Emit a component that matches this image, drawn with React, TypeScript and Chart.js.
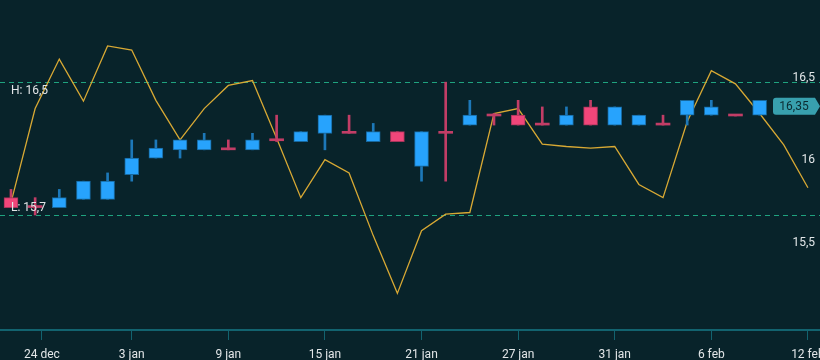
import React, { useEffect, useRef } from 'react';
import { Chart, registerables } from 'chart.js';

Chart.register(...registerables);

// Candles (one per trading day)
const opens = [15.76, 15.71, 15.70, 15.75, 15.75, 15.90, 16.00, 16.05, 16.05, 16.055, 16.05, 16.11, 16.10, 16.15, 16.155, 16.10, 16.16, 15.95, 16.155, 16.20, 16.26, 16.26, 16.205, 16.20, 16.31, 16.20, 16.20, 16.205, 16.26, 16.26, 16.26, 16.26];
const highs = [15.81, 15.76, 15.81, 15.86, 15.91, 16.11, 16.11, 16.11, 16.15, 16.11, 16.15, 16.26, 16.16, 16.26, 16.26, 16.21, 16.16, 16.16, 16.46, 16.35, 16.27, 16.35, 16.31, 16.31, 16.35, 16.31, 16.26, 16.26, 16.35, 16.35, 16.26, 16.35];
const lows = [15.70, 15.655, 15.70, 15.75, 15.75, 15.86, 16.00, 16.00, 16.05, 16.05, 16.05, 16.10, 16.10, 16.05, 16.15, 16.10, 16.10, 15.86, 15.86, 16.20, 16.20, 16.20, 16.20, 16.20, 16.20, 16.20, 16.20, 16.20, 16.20, 16.26, 16.255, 16.26];
const closes = [15.70, 15.70, 15.76, 15.86, 15.86, 16.00, 16.06, 16.11, 16.11, 16.05, 16.11, 16.105, 16.16, 16.26, 16.15, 16.16, 16.10, 16.16, 16.15, 16.26, 16.255, 16.20, 16.20, 16.26, 16.20, 16.31, 16.26, 16.20, 16.35, 16.31, 16.255, 16.35];

// Yellow comparison line (one point per day, two more days than candles)
const lineValues = [15.73, 16.30, 16.60, 16.345, 16.68, 16.655, 16.35, 16.11, 16.30, 16.44, 16.47, 16.12, 15.76, 15.99, 15.91, 15.53, 15.18, 15.56, 15.66, 15.67, 16.27, 16.30, 16.085, 16.07, 16.06, 16.07, 15.84, 15.76, 16.22, 16.53, 16.45, 16.27, 16.08, 15.82];

// Axis ticks
const xTickIdx = [1.28, 5, 9, 13, 17, 21, 25, 29, 33];
const xTickLabels = ['24 dec', '3 jan', '9 jan', '15 jan', '21 jan', '27 jan', '31 jan', '6 feb', '12 feb'];
const yTickValues = [15.5, 16, 16.5];

const BG = '#08232a';
const UP = '#27a3fd';
const UP_BORDER = '#17679c';
const UP_WICK = '#1d78b8';
const DOWN = '#f1467a';
const DOWN_BORDER = '#a5345a';
const DOWN_WICK = '#c23d66';
const LINE = '#d8a934';
const DASH = '#1fa37f';
const AXIS = '#12636f';
const TEXT = '#e2e6e8';
const BADGE = '#38a0ae';
const FONT = 'Roboto, "Noto Sans", sans-serif';

const fmt = (v: number, d?: number) => (d === undefined ? String(v) : v.toFixed(d)).replace('.', ',');

export default function App() {
  const ref = useRef<HTMLCanvasElement>(null);

  useEffect(() => {
    const canvas = ref.current;
    if (!canvas) return;

    const isDoji = (i: number) => Math.abs(closes[i] - opens[i]) < 0.015;
    const isUp = (i: number) => closes[i] >= opens[i];

    const bodyData = opens.map((o, i) => ({ x: i, y: [Math.min(o, closes[i]), Math.max(o, closes[i])] }));
    const wickData = opens.map((_, i) => ({ x: i, y: [lows[i], highs[i]] }));
    const bodyBg = opens.map((_, i) => (isDoji(i) ? (isUp(i) ? UP_WICK : DOWN_WICK) : isUp(i) ? UP : DOWN));
    const bodyBorder = opens.map((_, i) => (isUp(i) ? UP_BORDER : DOWN_BORDER));
    const bodyBw = opens.map((_, i) => (isDoji(i) ? 0 : 1));
    const wickColors = opens.map((_, i) => (isUp(i) ? UP_WICK : DOWN_WICK));

    const hi = Math.max(...highs);
    const lo = Math.min(...lows);
    const last = closes[closes.length - 1];

    const bgPlugin = {
      id: 'bg',
      beforeDraw(chart: any) {
        const { ctx, width, height } = chart;
        ctx.save();
        ctx.fillStyle = BG;
        ctx.fillRect(0, 0, width, height);
        ctx.restore();
      },
    };

    const overlay = {
      id: 'overlay',
      beforeDatasetsDraw(chart: any) {
        const { ctx, chartArea } = chart;
        const y = chart.scales.y;
        ctx.save();
        ctx.strokeStyle = DASH;
        ctx.lineWidth = 1;
        ctx.setLineDash([5, 4]);
        [hi, lo].forEach((v) => {
          const py = Math.round(y.getPixelForValue(v)) + 0.5;
          ctx.beginPath();
          ctx.moveTo(chartArea.left, py);
          ctx.lineTo(chartArea.right, py);
          ctx.stroke();
        });
        ctx.restore();
      },
      afterDatasetsDraw(chart: any) {
        const { ctx } = chart;
        const y = chart.scales.y;
        ctx.save();
        ctx.font = `12px ${FONT}`;
        ctx.fillStyle = TEXT;
        ctx.textAlign = 'left';
        ctx.textBaseline = 'middle';
        ctx.fillText('H: ' + fmt(hi, 1), 11, y.getPixelForValue(hi) + 9);
        ctx.fillText('L: ' + fmt(lo, 1), 11, y.getPixelForValue(lo) - 7);

        // last price badge
        const cy = y.getPixelForValue(last) + 6;
        const l = 773, r = 815, tip = 820, t = cy - 8.5, b = cy + 8.5, rad = 3;
        ctx.fillStyle = BADGE;
        ctx.beginPath();
        ctx.moveTo(l + rad, t);
        ctx.lineTo(r, t);
        ctx.lineTo(tip, cy);
        ctx.lineTo(r, b);
        ctx.lineTo(l + rad, b);
        ctx.quadraticCurveTo(l, b, l, b - rad);
        ctx.lineTo(l, t + rad);
        ctx.quadraticCurveTo(l, t, l + rad, t);
        ctx.closePath();
        ctx.fill();
        ctx.fillStyle = '#0b2a31';
        ctx.textAlign = 'center';
        ctx.fillText(fmt(last, 2), 794, cy + 0.5);
        ctx.restore();
      },
    };

    const chart = new Chart(canvas, {
      type: 'bar',
      data: {
        datasets: [
          {
            type: 'bar',
            label: 'body',
            data: bodyData as any,
            backgroundColor: bodyBg,
            borderColor: bodyBorder,
            borderWidth: bodyBw,
            borderSkipped: false,
            barThickness: 14,
            minBarLength: 2,
            grouped: false,
            order: 0,
          } as any,
          {
            type: 'bar',
            label: 'wick',
            data: wickData as any,
            backgroundColor: wickColors,
            borderWidth: 0,
            barThickness: 2,
            grouped: false,
            order: 1,
          } as any,
          {
            type: 'line',
            label: 'line',
            data: lineValues.map((v, i) => ({ x: i, y: v })),
            borderColor: LINE,
            borderWidth: 1.3,
            pointRadius: 0,
            tension: 0,
            order: 2,
          } as any,
        ],
      },
      options: {
        animation: false,
        responsive: false,
        devicePixelRatio: 1,
        layout: { padding: 0 },
        plugins: { legend: { display: false }, tooltip: { enabled: false } },
        scales: {
          x: {
            type: 'linear',
            min: -0.455,
            max: 33.5,
            offset: false,
            grid: {
              display: true,
              drawOnChartArea: false,
              drawTicks: true,
              tickLength: 10,
              color: AXIS,
              offset: false,
              lineWidth: 1,
            },
            border: { display: true, color: AXIS, width: 2 },
            ticks: {
              color: TEXT,
              font: { size: 12, family: FONT },
              padding: 8,
              maxRotation: 0,
              autoSkip: false,
              callback: (_v: any, i: number) => xTickLabels[i],
            },
            afterBuildTicks: (s: any) => {
              s.ticks = xTickIdx.map((v) => ({ value: v }));
            },
            afterFit: (s: any) => {
              s.height = 30;
              s.paddingLeft = 0;
              s.paddingRight = 0;
            },
          },
          y: {
            type: 'linear',
            position: 'right',
            min: 14.958,
            max: 16.958,
            grid: { display: false },
            border: { display: false },
            ticks: {
              mirror: true,
              padding: -5,
              labelOffset: 2,
              color: TEXT,
              font: { size: 12, family: FONT },
              callback: (v: any) => fmt(Number(v)),
            },
            afterBuildTicks: (s: any) => {
              s.ticks = yTickValues.map((v) => ({ value: v }));
            },
            afterFit: (s: any) => {
              s.width = 0;
              s.paddingTop = 0;
              s.paddingBottom = 0;
            },
          },
        },
      } as any,
      plugins: [bgPlugin, overlay],
    });

    return () => chart.destroy();
  }, []);

  return (
    <div style={{ position: 'fixed', left: 0, top: 0, width: 820, height: 360, background: BG }}>
      <canvas ref={ref} width={820} height={360} style={{ display: 'block', width: 820, height: 360 }} />
    </div>
  );
}
